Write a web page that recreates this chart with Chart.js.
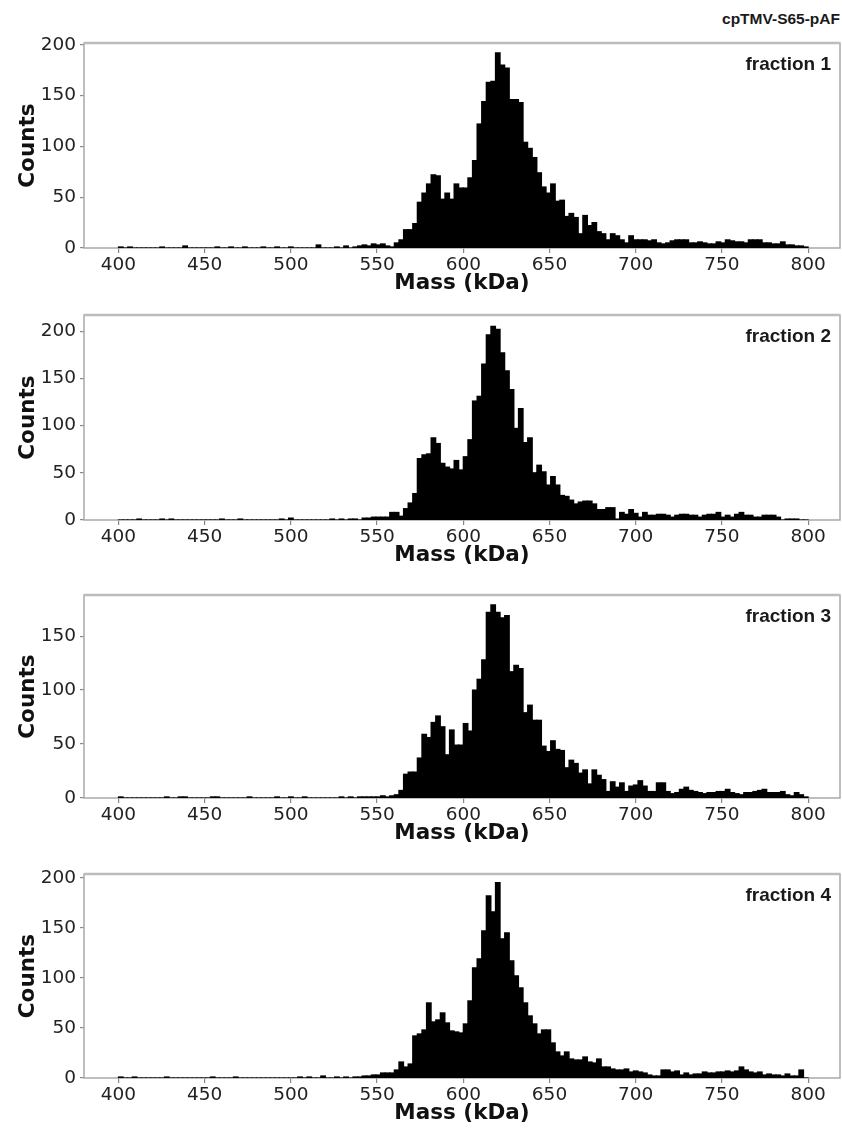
<!DOCTYPE html>
<html>
<head>
<meta charset="utf-8">
<script src="https://cdn.jsdelivr.net/npm/chart.js@4.4.1/dist/chart.umd.min.js"></script>
<style>
  body { margin: 0; background: #fff; width: 842px; height: 1130px; position: relative; overflow: hidden; }
  canvas { position: absolute; left: 0; }
  .lbl { position: absolute; font-family: "Liberation Sans", Arial, sans-serif; font-weight: bold; color: #1a1a1a; white-space: nowrap; line-height: 1; transform: translateY(-50%); }
</style>
</head>
<body>
<div class="lbl" style="right:2px; top:19px; font-size:15.5px;">cpTMV-S65-pAF</div>

<script>
// histogram range (kDa) and number of bins
const binStart = 400;
const binEnd = 800;
const binCount = 150;

const massTicks = [400, 450, 500, 550, 600, 650, 700, 750, 800];
const countTicks = [
  [0, 50, 100, 150, 200],
  [0, 50, 100, 150, 200],
  [0, 50, 100, 150],
  [0, 50, 100, 150, 200]
];
const countMax = [201.6, 217, 188, 203.6];
const fractionNames = ["fraction 1", "fraction 2", "fraction 3", "fraction 4"];

// counts per bin
const fraction1 = [
  1,0,1,0,0,0,0,0,0,1,
  0,0,0,0,2,0,0,0,0,0,
  0,1,0,0,1,0,0,1,0,0,
  0,1,0,0,1,0,0,1,0,0,
  0,0,0,3,0,0,0,1,0,2,
  0,1,2,3,2,4,3,4,2,1,
  5,8,18,18,24,45,54,63,72,71,
  48,54,48,63,59,59,69,86,122,144,
  163,164,192,180,177,146,146,143,104,98,
  89,74,60,54,63,46,47,31,34,30,
  14,32,22,25,16,14,8,14,12,8,
  5,12,8,8,8,7,8,5,4,5,
  7,8,8,8,5,5,6,5,4,4,
  6,5,8,7,6,6,5,8,8,8,
  5,5,4,4,6,3,3,2,2,1
];
const fraction2 = [
  0,0,0,0,1,0,0,0,0,1,
  0,1,0,0,0,0,0,0,0,0,
  0,0,1,0,0,0,1,0,0,0,
  0,0,0,0,0,1,0,2,0,0,
  0,0,0,0,0,0,1,0,1,0,
  1,1,0,2,2,3,3,3,3,8,
  8,4,12,18,28,65,69,70,87,81,
  60,56,54,63,53,67,85,126,131,165,
  196,205,202,177,158,138,97,118,82,87,
  50,58,51,37,46,37,26,25,21,17,
  19,20,20,17,11,11,13,13,1,8,
  6,11,7,3,8,5,5,6,6,5,
  3,5,6,6,5,5,3,5,6,6,
  8,3,5,3,6,8,5,5,3,3,
  5,5,5,3,0,1,1,1,0,0
];
const fraction3 = [
  1,0,0,0,0,0,0,0,0,0,
  1,0,0,1,1,0,0,0,0,0,
  1,1,0,0,0,0,0,0,1,0,
  0,0,0,0,1,0,0,1,0,0,
  1,0,0,0,0,0,0,0,1,0,
  1,0,1,1,1,1,1,2,1,2,
  3,7,22,24,24,37,59,56,70,76,
  66,40,63,49,49,69,62,100,110,128,
  172,179,172,167,169,117,123,120,79,86,
  72,72,48,43,53,45,44,28,35,32,
  23,26,13,26,21,17,6,15,10,14,
  6,11,12,16,11,6,6,14,14,6,
  4,5,8,10,7,6,5,4,5,5,
  6,6,8,5,4,3,5,5,6,7,
  8,5,5,5,6,3,2,5,3,1
];
const fraction4 = [
  1,0,0,1,0,0,0,0,0,0,
  1,0,0,0,0,0,0,0,0,0,
  1,0,0,0,0,1,0,0,0,0,
  0,0,0,0,0,0,0,0,0,1,
  0,1,0,0,2,0,0,1,0,1,
  0,1,1,2,2,3,3,5,5,5,
  8,16,11,14,42,44,48,75,56,58,
  65,55,47,46,45,54,77,110,119,147,
  182,166,195,139,145,117,102,90,75,62,
  54,44,48,48,35,26,22,26,19,18,
  18,21,16,15,19,11,11,9,8,8,
  9,6,7,6,5,3,2,2,8,8,
  6,7,3,5,3,4,4,6,5,5,
  6,6,7,6,7,11,8,6,5,6,
  3,4,3,3,2,4,2,2,8,0
];
const allCounts = [fraction1, fraction2, fraction3, fraction4];

// page layout: plot area top / bottom of each panel (px)
const plotTop = [40, 312, 592, 871];
const plotBottom = [248, 520, 798, 1078];
const padTop = 12;
const xAxisHeight = 50;
const yAxisWidth = 84;

const binWidth = (binEnd - binStart) / binCount;
const binCenters = [];
for (let i = 0; i < binCount; i++) binCenters.push(binStart + (i + 0.5) * binWidth);

const framePlugin = {
  id: "frame",
  beforeDatasetsDraw(chart) {
    const { ctx, chartArea: a } = chart;
    ctx.save();
    ctx.strokeStyle = "#a9a9a9";
    ctx.lineWidth = 1.5;
    ctx.strokeRect(a.left, a.top, a.right - a.left, a.bottom - a.top);
    ctx.strokeStyle = "#bcbcbc";
    ctx.lineWidth = 2.5;
    ctx.beginPath();
    ctx.moveTo(a.left, a.top);
    ctx.lineTo(a.right, a.top);
    ctx.stroke();
    ctx.restore();
  }
};

const tickFont = { family: "'DejaVu Sans', sans-serif", size: 18.5 };
const titleFont = { family: "'DejaVu Sans', sans-serif", size: 21.5, weight: "bold" };

allCounts.forEach((counts, p) => {
  const h = plotBottom[p] - plotTop[p] + padTop + xAxisHeight;
  const canvas = document.createElement("canvas");
  canvas.width = 842;
  canvas.height = h;
  canvas.style.top = (plotTop[p] - padTop) + "px";
  canvas.style.width = "842px";
  canvas.style.height = h + "px";
  document.body.appendChild(canvas);

  const lbl = document.createElement("div");
  lbl.className = "lbl";
  lbl.style.right = "11px";
  lbl.style.fontSize = "19px";
  lbl.style.top = (plotTop[p] + 23) + "px";
  lbl.textContent = fractionNames[p];
  document.body.appendChild(lbl);

  new Chart(canvas.getContext("2d"), {
    type: "bar",
    data: {
      datasets: [{
        data: counts.map((c, i) => ({ x: binCenters[i], y: c })),
        backgroundColor: "#000",
        borderWidth: 0,
        inflateAmount: 0.6,
        barPercentage: 1,
        categoryPercentage: 1
      }]
    },
    options: {
      responsive: false,
      animation: false,
      events: [],
      layout: { padding: { top: padTop, right: 2, left: 0, bottom: 0 } },
      plugins: { legend: { display: false }, tooltip: { enabled: false } },
      scales: {
        x: {
          type: "linear",
          min: 380,
          max: 818.5,
          offset: false,
          grid: { drawOnChartArea: false, offset: false, tickLength: 5, color: "#888", lineWidth: 1.2 },
          border: { display: false },
          afterBuildTicks: s => { s.ticks = massTicks.map(v => ({ value: v })); },
          afterFit: s => { s.height = xAxisHeight; },
          ticks: { autoSkip: false, maxRotation: 0, padding: 1, color: "#222", font: tickFont },
          title: { display: true, text: "Mass (kDa)", color: "#111", font: titleFont, padding: { top: 0, bottom: 2 } }
        },
        y: {
          min: 0,
          max: countMax[p],
          grid: { drawOnChartArea: false, tickLength: 4, color: "#888", lineWidth: 1.2 },
          border: { display: false },
          afterBuildTicks: s => { s.ticks = countTicks[p].map(v => ({ value: v })); },
          afterFit: s => { s.width = yAxisWidth; },
          ticks: { autoSkip: false, padding: 4, color: "#222", font: tickFont },
          title: { display: true, text: "Counts", color: "#111", font: titleFont, padding: { top: 16, bottom: 0 } }
        }
      }
    },
    plugins: [framePlugin]
  });
});
</script>
</body>
</html>
